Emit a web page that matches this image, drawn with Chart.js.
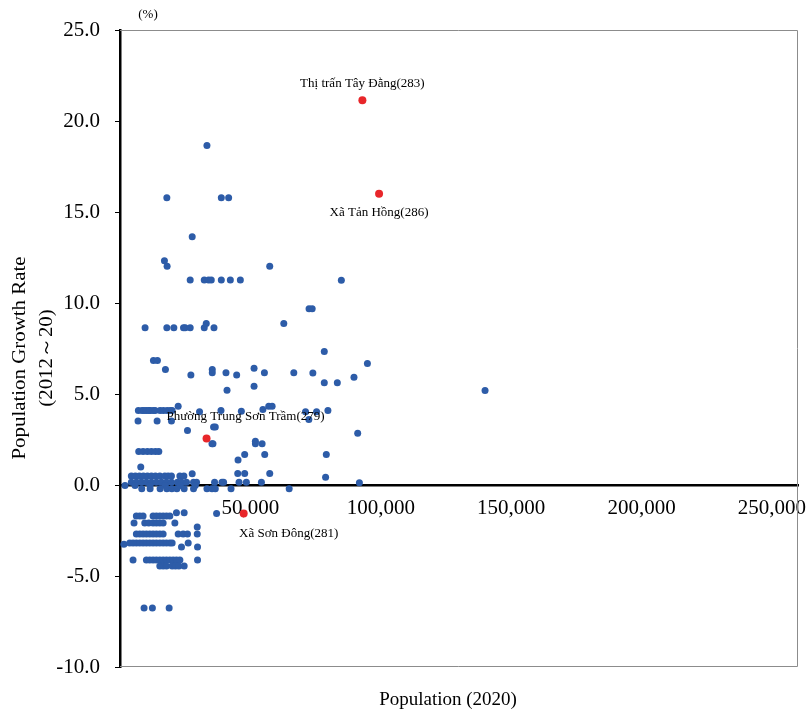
<!DOCTYPE html>
<html>
<head>
<meta charset="utf-8">
<script src="https://cdn.jsdelivr.net/npm/chart.js@4/dist/chart.umd.min.js"></script>
<style>
  html, body { margin: 0; padding: 0; background: #fff; }
  #wrap { width: 808px; height: 715px; }
</style>
</head>
<body>
<div id="wrap"><canvas id="scatter"></canvas></div>
<script>
// communes: population 2020 vs growth rate 2012~20 (%)
const POP_BLUE = [
  33340, 17960, 38850, 41660, 27690, 17040, 18070, 57420,
  26920, 32310, 33960, 35000, 38850, 42310, 46150, 84880,
  9615, 17960, 20650, 24350, 25000, 26920, 32310, 36040, 33080, 62810,
  72500, 73700, 12820, 14350,
  17420, 27180, 35380, 35380, 40640, 44740, 51410, 55380, 66650, 73960,
  78340, 94880, 89730, 78340, 83340, 41040, 51410, 139990,
  7040, 8460, 9230, 10120, 11040, 11540, 12690, 13460, 15380, 16650, 18070, 19230, 20000,
  22310, 30500, 38730, 46540, 54800, 57040, 58340, 71150, 75380, 79730, 72420,
  6920, 14230, 19730,
  25880, 35880, 36540, 35270, 35650, 51920, 51920, 54500, 91150,
  7190, 8850, 10500, 12040, 13580, 14880,
  47810, 55500, 79110, 45270, 7960,
  45150, 47810, 57420, 78840,
  4350, 5880, 7420, 8960, 10500, 12040, 13580, 15270, 17190, 18460, 19730, 22960, 24500, 27690,
  4350, 6270, 8190, 10120, 12040, 13960, 15880, 17810, 19730, 22040, 23580, 25500, 28190, 29350,
  36270, 39110, 39730, 45650, 48460, 54230, 91800,
  1920, 5770, 11540, 17310, 23080, 28850,
  8350, 11540, 15380, 17960, 19880, 21810, 24610, 28190, 33340, 35270, 36540, 42580, 64880,
  37040,
  6270, 7580, 8850, 12690, 13960, 15270, 16540, 17810, 19110, 21650, 24610,
  5385, 9500, 11040, 12690, 13960, 15270, 16540, 21040,
  29620,
  6270, 7580, 8850, 10120, 11420, 12690, 13960, 15270, 16540, 22310, 24230, 25880, 29620,
  1500, 3730, 5000, 6270, 7580, 8850, 10120, 11420, 12690, 13960, 15270, 16540, 17810, 19110, 20000,
  23580, 26150, 29730,
  5000, 10120, 11420, 12690, 13960, 15270, 16540, 17810, 19110, 20380, 21650, 22960, 29730,
  15270, 16540, 17810, 20000, 21270, 22580, 24610,
  9230, 12420, 18850
];
const RATE_BLUE = [
  18.65, 15.78, 15.78, 15.78, 13.64, 12.32, 12.02, 12.02,
  11.27, 11.27, 11.27, 11.27, 11.27, 11.27, 11.27, 11.25,
  8.64, 8.64, 8.64, 8.64, 8.64, 8.64, 8.64, 8.64, 8.87, 8.87,
  9.68, 9.68, 6.84, 6.84,
  6.35, 6.05, 6.35, 6.17, 6.17, 6.05, 6.42, 6.17, 6.17, 6.16,
  7.34, 6.68, 5.92, 5.62, 5.62, 5.2, 5.43, 5.19,
  4.09, 4.09, 4.09, 4.09, 4.09, 4.09, 4.09, 4.09, 4.09, 4.09, 4.09, 4.09, 4.09,
  4.33, 4.02, 4.09, 4.05, 4.15, 4.33, 4.33, 4.02, 4.02, 4.09, 3.6,
  3.51, 3.51, 3.51,
  2.99, 3.18, 3.18, 2.26, 2.26, 2.41, 2.26, 2.26, 2.85,
  1.84, 1.84, 1.84, 1.84, 1.84, 1.84,
  1.68, 1.68, 1.68, 1.37, 0.99,
  0.63, 0.63, 0.63, 0.43,
  0.49, 0.49, 0.49, 0.49, 0.49, 0.49, 0.49, 0.49, 0.49, 0.49, 0.49, 0.49, 0.49, 0.62,
  0.15, 0.15, 0.15, 0.15, 0.15, 0.15, 0.15, 0.15, 0.15, 0.15, 0.15, 0.15, 0.15, 0.15,
  0.15, 0.15, 0.15, 0.15, 0.15, 0.15, 0.12,
  -0.03, -0.03, -0.03, -0.03, -0.03, -0.03,
  -0.21, -0.21, -0.21, -0.21, -0.21, -0.21, -0.21, -0.21, -0.21, -0.21, -0.21, -0.21, -0.21,
  -1.57,
  -1.7, -1.7, -1.7, -1.7, -1.7, -1.7, -1.7, -1.7, -1.7, -1.53, -1.53,
  -2.09, -2.09, -2.09, -2.09, -2.09, -2.09, -2.09, -2.09,
  -2.31,
  -2.69, -2.69, -2.69, -2.69, -2.69, -2.69, -2.69, -2.69, -2.69, -2.69, -2.69, -2.69, -2.69,
  -3.25, -3.18, -3.18, -3.18, -3.18, -3.18, -3.18, -3.18, -3.18, -3.18, -3.18, -3.18, -3.18, -3.18, -3.18,
  -3.4, -3.18, -3.4,
  -4.12, -4.12, -4.12, -4.12, -4.12, -4.12, -4.12, -4.12, -4.12, -4.12, -4.12, -4.12, -4.12,
  -4.45, -4.45, -4.45, -4.45, -4.45, -4.45, -4.45,
  -6.76, -6.76, -6.76
];

// highlighted communes
const RED_NAMES = ['Thị trấn Tây Đằng(283)', 'Xã Tản Hồng(286)', 'Phường Trung Sơn Trầm(279)', 'Xã Sơn Đông(281)'];
const POP_RED = [92950, 99350, 33190, 47430];
const RATE_RED = [21.14, 16.0, 2.55, -1.57];

const X_TICKS = [50000, 100000, 150000, 200000, 250000];
const Y_TICKS = [-10, -5, 0, 5, 10, 15, 20, 25];

// label offsets (px) from each red point
const LABEL_OFFSETS = [[0, -17], [0, 19], [39, -22], [45, 20]];

const SERIF = '"Liberation Serif", "Times New Roman", serif';

const textPlugin = {
  id: 'textPlugin',
  beforeDatasetsDraw(chart) {
    const { ctx, chartArea: a } = chart;
    ctx.save();
    ctx.strokeStyle = '#8c8c8c';
    ctx.lineWidth = 1;
    ctx.beginPath();
    ctx.moveTo(a.left, a.top + 0.5);
    ctx.lineTo(a.right - 0.5, a.top + 0.5);
    ctx.lineTo(a.right - 0.5, a.bottom - 0.5);
    ctx.lineTo(a.left, a.bottom - 0.5);
    ctx.stroke();
    ctx.restore();
  },
  afterDraw(chart) {
    const { ctx, chartArea: a, scales } = chart;
    ctx.save();
    ctx.fillStyle = '#000';
    ctx.textAlign = 'center';
    ctx.textBaseline = 'middle';

    ctx.font = '13px ' + SERIF;
    ctx.fillText('(%)', a.left + 28, 15);

    ctx.font = '19px ' + SERIF;
    ctx.fillText('Population (2020)', (a.left + a.right) / 2 - 11, 700);

    // y title is drawn a bit stretched along its length, like the original
    ctx.save();
    ctx.translate(20, 358);
    ctx.rotate(-Math.PI / 2);
    ctx.scale(1.1, 1);
    ctx.fillText('Population Growth Rate', 0, 0);
    ctx.fillText('(2012～20)', 0, 27);
    ctx.restore();

    ctx.font = '13px ' + SERIF;
    RED_NAMES.forEach((name, i) => {
      const px = scales.x.getPixelForValue(POP_RED[i]) + LABEL_OFFSETS[i][0];
      const py = scales.y.getPixelForValue(RATE_RED[i]) + LABEL_OFFSETS[i][1];
      ctx.fillText(name, px, py);
    });
    ctx.restore();
  }
};

new Chart(document.getElementById('scatter'), {
  type: 'scatter',
  data: {
    datasets: [
      {
        label: 'highlight',
        data: POP_RED.map((p, i) => ({ x: p, y: RATE_RED[i] })),
        backgroundColor: '#e8262a',
        borderWidth: 0,
        pointRadius: 4,
        order: 0
      },
      {
        label: 'communes',
        data: POP_BLUE.map((p, i) => ({ x: p, y: RATE_BLUE[i] })),
        backgroundColor: '#2d5ca8',
        borderWidth: 0,
        pointRadius: 3.5,
        order: 1
      }
    ]
  },
  options: {
    responsive: true,
    maintainAspectRatio: false,
    animation: false,
    layout: { padding: { left: 0, top: 30, right: 10, bottom: 48 } },
    plugins: {
      legend: { display: false },
      tooltip: { enabled: false }
    },
    scales: {
      x: {
        type: 'linear',
        position: { y: 0 },
        min: 0,
        max: 260000,
        afterBuildTicks: (s) => { s.ticks = X_TICKS.map(v => ({ value: v })); },
        // let the last tick label run into the right margin
        afterFit: (s) => { s.paddingLeft = 0; s.paddingRight = 0; },
        grid: { drawOnChartArea: false, drawTicks: false },
        border: { color: '#000', width: 2.5 },
        ticks: {
          padding: 11,
          color: '#000',
          font: { family: SERIF, size: 21 },
          callback: (v) => v.toLocaleString('en-US')
        }
      },
      y: {
        type: 'linear',
        min: -10,
        max: 25,
        afterBuildTicks: (s) => { s.ticks = Y_TICKS.map(v => ({ value: v })); },
        afterFit: (s) => { s.width = 120; },
        grid: { drawOnChartArea: false, drawTicks: true, tickLength: 5, color: '#000' },
        border: { color: '#000', width: 2.5 },
        ticks: {
          padding: 15,
          color: '#000',
          font: { family: SERIF, size: 21 },
          callback: (v) => v.toFixed(1)
        }
      }
    }
  },
  plugins: [textPlugin]
});
</script>
</body>
</html>
